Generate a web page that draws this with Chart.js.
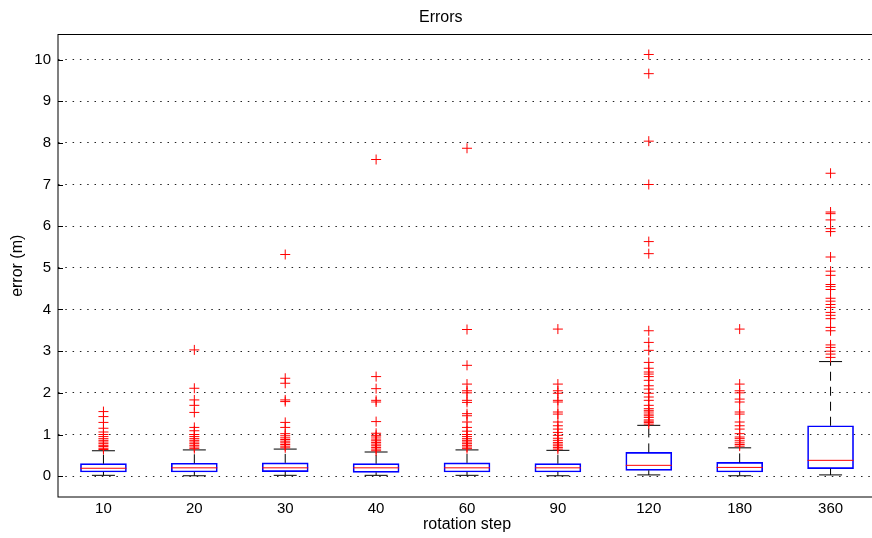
<!DOCTYPE html>
<html>
<head>
<meta charset="utf-8">
<script src="https://cdn.jsdelivr.net/npm/chart.js@4.4.1/dist/chart.umd.min.js"></script>
<style>
  html, body { margin: 0; padding: 0; overflow: hidden; background: #fff; }
  #wrap { width: 900px; height: 538px; position: relative; }
</style>
</head>
<body>
<div id="wrap"><canvas id="chart"></canvas></div>
<script>
// Box plot of errors per rotation step
const categories = ['10', '20', '30', '40', '60', '90', '120', '180', '360'];
const q1          = [0.10, 0.10, 0.11, 0.09, 0.10, 0.10, 0.14, 0.10, 0.18];
const medians     = [0.19, 0.20, 0.20, 0.20, 0.20, 0.20, 0.26, 0.21, 0.38];
const q3          = [0.30, 0.31, 0.32, 0.30, 0.32, 0.30, 0.57, 0.33, 1.21];
const whiskerLow  = [0.02, 0.01, 0.02, 0.02, 0.02, 0.01, 0.03, 0.01, 0.03];
const whiskerHigh = [0.61, 0.63, 0.65, 0.58, 0.63, 0.62, 1.22, 0.68, 2.75];
const outliers = [
  [0.64, 0.67, 0.71, 0.74, 0.78, 0.82, 0.86, 0.90, 0.95, 1.00, 1.06, 1.15, 1.29, 1.43, 1.55],
  [0.66, 0.70, 0.74, 0.78, 0.82, 0.86, 0.90, 0.95, 1.00, 1.09, 1.17, 1.53, 1.70, 1.83, 2.11, 3.03],
  [0.68, 0.72, 0.76, 0.80, 0.84, 0.88, 0.92, 0.97, 1.02, 1.17, 1.29, 1.79, 1.83, 2.23, 2.35, 5.32],
  [0.61, 0.65, 0.69, 0.73, 0.77, 0.81, 0.85, 0.89, 0.94, 0.98, 1.03, 1.31, 1.78, 1.82, 2.10, 2.39, 7.60],
  [0.66, 0.70, 0.74, 0.78, 0.82, 0.86, 0.90, 0.95, 1.00, 1.08, 1.17, 1.30, 1.45, 1.50, 1.77, 1.82, 2.00, 2.05, 2.21, 2.66, 3.52, 7.87],
  [0.65, 0.69, 0.73, 0.77, 0.81, 0.86, 0.91, 0.98, 1.05, 1.13, 1.21, 1.30, 1.49, 1.54, 1.78, 1.82, 1.99, 2.05, 2.21, 3.53],
  [1.25, 1.29, 1.32, 1.35, 1.41, 1.45, 1.49, 1.54, 1.58, 1.62, 1.70, 1.82, 1.90, 1.99, 2.09, 2.17, 2.30, 2.39, 2.45, 2.50, 2.59, 2.73, 3.02, 3.21, 3.49, 5.34, 5.63, 7.00, 8.04, 9.66, 10.12],
  [0.72, 0.76, 0.80, 0.85, 0.90, 0.94, 1.02, 1.13, 1.21, 1.30, 1.49, 1.54, 1.78, 1.85, 2.00, 2.05, 2.21, 3.53],
  [2.85, 2.93, 3.00, 3.09, 3.15, 3.49, 3.57, 3.78, 3.86, 3.93, 4.05, 4.12, 4.20, 4.27, 4.48, 4.55, 4.60, 4.82, 4.92, 5.26, 5.87, 5.94, 6.15, 6.30, 6.34, 7.27]
];
const yTicks = [0, 1, 2, 3, 4, 5, 6, 7, 8, 9, 10];

const FONT = "'Liberation Sans', Arial, Helvetica, sans-serif";

(() => {
  const canvas = document.getElementById('chart');
  if (!canvas) return;

  const xs = categories.map((_, i) => i + 1);

  const boxData = xs.map((x, i) => ({ x, y: [q1[i], q3[i]] }));
  const medianData = xs.map((x, i) => ({ x, y: medians[i] }));
  const capData = [];
  const whiskerData = [];
  xs.forEach((x, i) => {
    capData.push({ x, y: whiskerLow[i] }, { x, y: whiskerHigh[i] });
    whiskerData.push(
      { x, y: whiskerLow[i] }, { x, y: q1[i] }, { x, y: null },
      { x, y: q3[i] }, { x, y: whiskerHigh[i] }, { x, y: null }
    );
  });
  const outlierData = [];
  outliers.forEach((list, i) => list.forEach(v => outlierData.push({ x: xs[i], y: v })));

  // axes frame with inward ticks, like the original figure
  const framePlugin = {
    id: 'frame',
    afterDraw(chart) {
      const { ctx, chartArea: a, scales } = chart;
      ctx.save();
      ctx.strokeStyle = '#000';
      ctx.lineWidth = 1;
      ctx.strokeRect(a.left, a.top, a.right - a.left, a.bottom - a.top);
      ctx.beginPath();
      yTicks.forEach(v => {
        const py = Math.round(scales.y.getPixelForValue(v)) + 0.5;
        ctx.moveTo(a.left, py);
        ctx.lineTo(a.left + 5, py);
      });
      ctx.stroke();
      ctx.restore();
    }
  };

  new Chart(canvas, {
    type: 'bar',
    data: {
      datasets: [
        {
          type: 'line',
          label: 'outliers',
          data: outlierData,
          showLine: false,
          pointStyle: 'cross',
          pointRadius: 5,
          pointBorderWidth: 1,
          pointBorderColor: '#ff0000',
          pointBackgroundColor: '#ff0000',
          order: 0
        },
        {
          type: 'line',
          label: 'caps',
          data: capData,
          showLine: false,
          pointStyle: 'line',
          pointRadius: 11.5,
          pointBorderWidth: 1,
          pointBorderColor: '#000',
          order: 1
        },
        {
          type: 'line',
          label: 'median',
          data: medianData,
          showLine: false,
          pointStyle: 'line',
          pointRadius: 23,
          pointBorderWidth: 1,
          pointBorderColor: '#ff0000',
          order: 2
        },
        {
          type: 'line',
          label: 'whiskers',
          data: whiskerData,
          spanGaps: false,
          borderColor: '#000',
          borderWidth: 1,
          borderDash: [9, 6],
          pointRadius: 0,
          order: 3
        },
        {
          type: 'bar',
          label: 'box',
          data: boxData,
          backgroundColor: 'rgba(255,255,255,0)',
          borderColor: '#0000ff',
          borderWidth: 1,
          borderSkipped: false,
          barThickness: 46,
          order: 4
        }
      ]
    },
    options: {
      responsive: true,
      maintainAspectRatio: false,
      animation: false,
      events: [],
      layout: { padding: { left: 0, right: 18.5, top: 0, bottom: 0 } },
      plugins: {
        legend: { display: false },
        tooltip: { enabled: false },
        title: {
          display: true,
          text: 'Errors',
          color: '#000',
          font: { family: FONT, size: 16, weight: 'normal' },
          padding: { top: 8, bottom: 7.3 }
        }
      },
      scales: {
        x: {
          type: 'linear',
          min: 0.5,
          max: 9.5,
          offset: false,
          afterBuildTicks: axis => { axis.ticks = xs.map(v => ({ value: v })); },
          afterFit: s => { s.height = 41; },
          ticks: {
            autoSkip: false,
            maxRotation: 0,
            padding: 3,
            color: '#000',
            font: { family: FONT, size: 15 },
            callback: v => categories[v - 1] ?? ''
          },
          grid: { display: false, drawTicks: false, tickLength: 0, offset: false },
          border: { display: false },
          title: {
            display: true,
            text: 'rotation step',
            color: '#000',
            font: { family: FONT, size: 16 },
            padding: { top: 0, bottom: 3.4 }
          }
        },
        y: {
          min: -0.5,
          max: 10.6,
          afterBuildTicks: axis => { axis.ticks = yTicks.map(v => ({ value: v })); },
          afterFit: s => { s.width = 58; },
          ticks: {
            padding: 7,
            color: '#000',
            font: { family: FONT, size: 15 }
          },
          grid: { color: '#222', lineWidth: 1, drawTicks: false, tickLength: 0 },
          border: { display: false, dash: [1.5, 5.8] },
          title: {
            display: true,
            text: 'error (m)',
            color: '#000',
            font: { family: FONT, size: 16 },
            padding: { top: 8, bottom: 0 }
          }
        }
      }
    },
    plugins: [framePlugin]
  });
})();
</script>
</body>
</html>
